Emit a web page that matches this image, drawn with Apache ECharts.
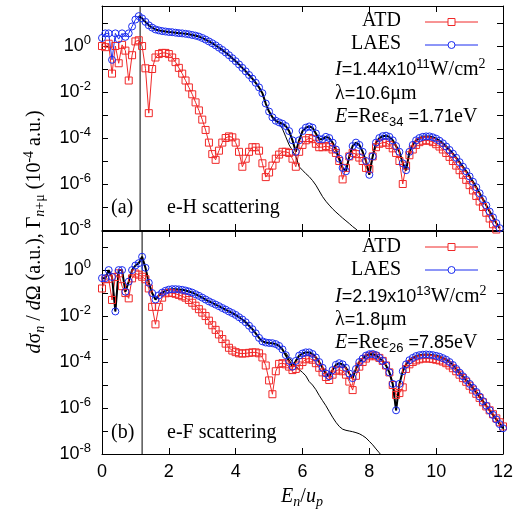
<!DOCTYPE html>
<html>
<head>
<meta charset="utf-8">
<script src="https://cdn.jsdelivr.net/npm/echarts@6/dist/echarts.min.js"></script>
<style>
html,body{margin:0;padding:0;background:#fff;}
#main{width:524px;height:514px;}
</style>
</head>
<body>
<div id="main"></div>
<script>
var hATD = [0.0,-0.05,0.1,-1.2,0.0,-0.75,0.05,-0.2,-1.5,-0.4,
  0.2,0.25,0.0,-0.97,-2.92,-1.0,-0.5,-0.35,-0.3,-0.3,
  -0.35,-0.5,-0.7,-0.95,-1.2,-1.5,-1.8,-2.1,-2.45,-2.8,
  -3.2,-3.65,-4.2,-4.7,-4.95,-4.55,-4.2,-4.0,-3.93,-3.97,
  -4.2,-4.6,-5.25,-4.9,-4.6,-4.4,-4.4,-4.55,-5.1,-5.7,
  -5.5,-5.2,-4.9,-4.72,-4.6,-4.6,-4.65,-4.9,-5.25,-4.6,
  -4.3,-4.1,-4.0,-4.05,-4.25,-4.4,-4.4,-4.35,-4.4,-4.5,
  -4.65,-5.0,-5.8,-5.3,-4.8,-4.65,-4.7,-4.85,-5.0,-5.3,
  -5.35,-4.8,-4.4,-4.25,-4.2,-4.2,-4.3,-4.45,-4.65,-5.0,
  -6.0,-5.2,-4.75,-4.5,-4.3,-4.18,-4.12,-4.1,-4.12,-4.18,
  -4.27,-4.37,-4.5,-4.65,-4.82,-5.0,-5.2,-5.4,-5.6,-5.82,
  -6.05,-6.28,-6.52,-6.76,-7.0,-7.25,-7.5,-7.75,-7.98];
var hLAES = [0.35,0.55,0.55,-0.6,0.55,0.3,0.55,0.4,0.55,0.85,
  1.15,1.3,1.2,1.05,0.9,0.8,0.72,0.68,0.65,0.63,
  0.61,0.6,0.58,0.56,0.55,0.53,0.51,0.48,0.45,0.41,
  0.35,0.28,0.2,0.12,0.03,-0.07,-0.17,-0.28,-0.4,-0.53,
  -0.66,-0.8,-0.95,-1.1,-1.26,-1.42,-1.6,-1.8,-2.05,-2.5,
  -2.85,-3.1,-3.25,-3.32,-3.38,-3.48,-3.7,-4.1,-4.6,-4.1,
  -3.7,-3.55,-3.5,-3.55,-3.8,-4.05,-4.05,-3.95,-4.0,-4.2,
  -4.5,-4.9,-5.3,-5.45,-4.8,-4.35,-4.2,-4.3,-4.6,-5.0,
  -5.6,-4.8,-4.2,-4.0,-3.92,-3.9,-3.95,-4.1,-4.35,-4.6,
  -5.1,-5.4,-4.6,-4.3,-4.1,-4.0,-3.95,-3.93,-3.93,-3.97,
  -4.03,-4.12,-4.23,-4.37,-4.52,-4.68,-4.86,-5.05,-5.25,-5.45,
  -5.67,-5.9,-6.14,-6.4,-6.66,-6.93,-7.2,-7.45,-7.7,-7.92];
var hThinX0 = 5.2;
var hThin = [-3.25,-3.35,-3.6,-3.95,-4.3,-4.55,-4.8,-5.25,-5.4,-5.55,
  -5.68,-5.85,-6.05,-6.3,-6.55,-6.75,-6.92,-7.08,-7.22,-7.35,
  -7.48,-7.6,-7.72,-7.85,-7.96,-8.1];

var fATD = [-0.8,-0.4,-0.38,-1.3,-0.3,-0.14,-0.7,-1.0,-1.23,-0.36,
  -0.15,-0.2,-0.29,-0.4,-0.8,-1.6,-2.36,-1.6,-1.2,-1.01,
  -0.98,-1.0,-1.03,-1.08,-1.14,-1.2,-1.3,-1.42,-1.55,-1.7,
  -1.85,-2.0,-2.2,-2.4,-2.6,-2.8,-3.0,-3.2,-3.38,-3.5,
  -3.57,-3.62,-3.63,-3.62,-3.6,-3.58,-3.58,-3.62,-3.8,-4.15,
  -4.8,-5.4,-4.4,-4.08,-4.05,-4.1,-4.2,-4.35,-4.3,-4.15,
  -4.0,-3.88,-3.84,-3.9,-4.05,-4.25,-4.45,-4.65,-4.78,-4.55,
  -4.38,-4.33,-4.4,-4.55,-4.85,-5.22,-4.6,-4.2,-4.0,-3.85,
  -3.75,-3.7,-3.75,-3.82,-3.95,-4.15,-4.45,-5.0,-5.43,-5.35,
  -5.1,-4.3,-4.1,-4.0,-3.93,-3.88,-3.85,-3.84,-3.85,-3.87,
  -3.9,-3.93,-3.98,-4.05,-4.15,-4.27,-4.4,-4.55,-4.7,-4.86,
  -5.03,-5.2,-5.38,-5.56,-5.75,-5.93,-6.1,-6.27,-6.45,-6.62,-6.8];
var fLAES = [-0.35,-0.35,0.0,-0.3,-1.8,0.0,0.0,-0.94,-0.5,0.0,
  0.2,0.3,0.58,0.1,-0.55,-1.0,-1.28,-1.1,-0.98,-0.9,
  -0.85,-0.83,-0.83,-0.84,-0.86,-0.89,-0.93,-0.98,-1.05,-1.12,
  -1.2,-1.28,-1.36,-1.43,-1.5,-1.57,-1.65,-1.72,-1.8,-1.87,
  -1.95,-2.05,-2.15,-2.27,-2.42,-2.57,-2.75,-2.95,-3.1,-3.15,
  -3.17,-3.18,-3.22,-3.3,-3.45,-3.7,-3.95,-4.2,-3.95,-3.72,
  -3.63,-3.58,-3.58,-3.65,-3.8,-4.0,-4.25,-4.5,-4.62,-4.35,
  -4.12,-4.05,-4.1,-4.25,-4.5,-4.7,-4.3,-4.0,-3.85,-3.72,
  -3.66,-3.65,-3.7,-3.82,-3.95,-4.15,-4.45,-4.95,-6.1,-4.95,
  -4.4,-4.1,-3.92,-3.82,-3.74,-3.7,-3.68,-3.67,-3.68,-3.7,
  -3.73,-3.77,-3.83,-3.9,-4.0,-4.13,-4.3,-4.46,-4.62,-4.78,
  -4.95,-5.12,-5.3,-5.5,-5.7,-5.9,-6.1,-6.3,-6.5,-6.7,-6.88];
var fThinX0 = 5.5;
var fThin = [-3.6,-3.8,-4.0,-4.2,-4.33,-4.45,-4.6,-4.85,-5.0,-5.2,
  -5.45,-5.68,-5.9,-6.15,-6.4,-6.62,-6.8,-6.92,-6.97,-7.0,
  -7.03,-7.07,-7.12,-7.2,-7.3,-7.45,-7.6,-7.78,-7.95,-8.15];

var yLabelPowers = [-8, -6, -4, -2, 0];
var vLineH = 1.14, vLineF = 1.2;

function pts(arr, x0) {
  x0 = x0 || 0;
  return arr.map(function (v, i) { return [Math.round((x0 + i * 0.1) * 10) / 10, v]; });
}

var RED = '#f02828', BLUE = '#1a2cf0';
var SANS = 'Liberation Sans', SERIF = 'Liberation Serif';

var chart = echarts.init(document.getElementById('main'), null, {renderer: 'canvas'});

function xAx(g, pos, showLabel) {
  return {
    gridIndex: g, type: 'value', min: 0, max: 12, interval: 2, position: pos,
    axisLine: {onZero: false, lineStyle: {color: '#000', width: 1}},
    axisTick: {inside: true, length: 6, lineStyle: {color: '#000'}},
    axisLabel: {show: showLabel, color: '#000', fontFamily: SANS, fontSize: 18, margin: 9},
    splitLine: {show: false}
  };
}
function yAx(g, pos, max, showLabel) {
  return {
    gridIndex: g, type: 'value', min: -8, max: max, interval: 1, position: pos,
    axisLine: {onZero: false, lineStyle: {color: '#000', width: 1}},
    axisTick: {inside: true, length: 6, lineStyle: {color: '#000'}},
    axisLabel: {
      show: showLabel, margin: 11,
      formatter: function (v) {
        return yLabelPowers.indexOf(v) >= 0 ? '{b|10}{s|' + v + '}' : '';
      },
      rich: {
        b: {fontFamily: SANS, fontSize: 18, color: '#000'},
        s: {fontFamily: SANS, fontSize: 13, color: '#000', padding: [0, 0, 12, 0]}
      }
    },
    splitLine: {show: false}
  };
}

function dataSeries(name, arr, xi, yi, color, symbol) {
  return {
    name: name, type: 'line', xAxisIndex: xi, yAxisIndex: yi,
    data: pts(arr), symbol: symbol, symbolSize: 7,
    lineStyle: {color: color, width: 1},
    itemStyle: {color: 'rgba(0,0,0,0)', borderColor: color, borderWidth: 1},
    animation: false, silent: true
  };
}
function blackLine(data, xi, yi, w) {
  return {
    type: 'line', xAxisIndex: xi, yAxisIndex: yi, data: data,
    symbol: 'none', lineStyle: {color: '#000', width: w},
    animation: false, silent: true
  };
}

var txt = function (x, y, text, rich, align) {
  return {type: 'text', x: x, y: y, silent: true,
    style: {text: text, rich: rich, align: align || 'left', verticalAlign: 'middle', fill: '#000'}};
};
var R = {
  it: {fontFamily: SERIF, fontStyle: 'italic', fontSize: 20, color: '#000'},
  sr: {fontFamily: SERIF, fontSize: 20, color: '#000'},
  sn: {fontFamily: SANS, fontSize: 18, color: '#000'},
  sup: {fontFamily: SANS, fontSize: 13, color: '#000', padding: [0, 0, 12, 0]},
  sub: {fontFamily: SANS, fontSize: 13, color: '#000', padding: [10, 0, 0, 0]},
  subi: {fontFamily: SERIF, fontStyle: 'italic', fontSize: 14, color: '#000', padding: [10, 0, 0, 0]},
  subr: {fontFamily: SERIF, fontSize: 14, color: '#000', padding: [10, 0, 0, 0]},
  supr: {fontFamily: SERIF, fontSize: 14, color: '#000', padding: [0, 0, 12, 0]}
};

function legendItems(yA, yL, dy) {
  return [
    txt(401, yA, '{sr|ATD}', R, 'right'),
    txt(401, yL, '{sr|LAES}', R, 'right'),
    {type: 'line', shape: {x1: 425, y1: yA + dy, x2: 478, y2: yA + dy}, style: {stroke: RED, lineWidth: 1}, silent: true},
    {type: 'rect', shape: {x: 448, y: yA + dy - 3.5, width: 7, height: 7}, style: {stroke: RED, fill: '#fff', lineWidth: 1}, silent: true},
    {type: 'line', shape: {x1: 425, y1: yL + dy, x2: 478, y2: yL + dy}, style: {stroke: BLUE, lineWidth: 1}, silent: true},
    {type: 'circle', shape: {cx: 451.5, cy: yL + dy, r: 3.5}, style: {stroke: BLUE, fill: '#fff', lineWidth: 1}, silent: true}
  ];
}

var graphics = [].concat(
  legendItems(21, 44, 1),
  legendItems(247, 270, 0),
  [
    txt(335, 70, '{it|I}{sn|=1.44x10}{sup|11}{sr|W/cm}{supr|2}', R),
    txt(335, 94, '{sr|λ}{sn|=10.6}{sr|μm}', R),
    txt(335, 117, '{it|E}{sr|=Reε}{sub|34}{sn| =1.71}{sr|eV}', R),
    txt(335, 297, '{it|I}{sn|=2.19x10}{sup|13}{sr|W/cm}{supr|2}', R),
    txt(335, 320, '{sr|λ}{sn|=1.8}{sr|μm}', R),
    txt(335, 343, '{it|E}{sr|=Reε}{sub|26}{sn| =7.85}{sr|eV}', R),
    txt(111, 208, '{sr|(a)}', R),
    txt(167, 208, '{sr|e-H scattering}', R),
    txt(111, 433, '{sr|(b)}', R),
    txt(167, 433, '{sr|e-F scattering}', R),
    txt(302, 497, '{it|E}{subi|n}{sr|/}{it|u}{subi|p}', R, 'center'),
    {type: 'text', x: 35, y: 232, rotation: Math.PI / 2, silent: true,
      style: {text: '{it|d}{sr|σ}{subi|n}{sr| / }{it|d}{sr|Ω (a.u.), Γ}{subi|n}{subr|+μ}{sr| (10}{supr|-4}{sr| a.u.)}',
        rich: R, align: 'center', verticalAlign: 'middle', fill: '#000'}}
  ]
);

var option = {
  backgroundColor: '#fff',
  animation: false,
  grid: [
    {left: 102, top: 6, width: 401, height: 224},
    {left: 102, top: 231, width: 401, height: 223}
  ],
  xAxis: [xAx(0, 'bottom', false), xAx(0, 'top', false), xAx(1, 'bottom', true), xAx(1, 'top', false)],
  yAxis: [yAx(0, 'left', 1.74, true), yAx(0, 'right', 1.74, false), yAx(1, 'left', 1.7, true), yAx(1, 'right', 1.7, false)],
  series: [
    dataSeries('ATD', hATD, 0, 0, RED, 'rect'),
    dataSeries('LAES', hLAES, 0, 0, BLUE, 'circle'),
    blackLine(pts(hLAES).slice(11), 0, 0, 2),
    blackLine(pts(hThin, hThinX0), 0, 0, 1),
    blackLine([[vLineH, -8], [vLineH, 1.74]], 0, 0, 1),
    dataSeries('ATD', fATD, 2, 2, RED, 'rect'),
    dataSeries('LAES', fLAES, 2, 2, BLUE, 'circle'),
    blackLine(pts(fLAES), 2, 2, 2),
    blackLine(pts(fThin, fThinX0), 2, 2, 1),
    blackLine([[vLineF, -8], [vLineF, 1.7]], 2, 2, 1)
  ],
  graphic: graphics
};
chart.setOption(option);
</script>
</body>
</html>
